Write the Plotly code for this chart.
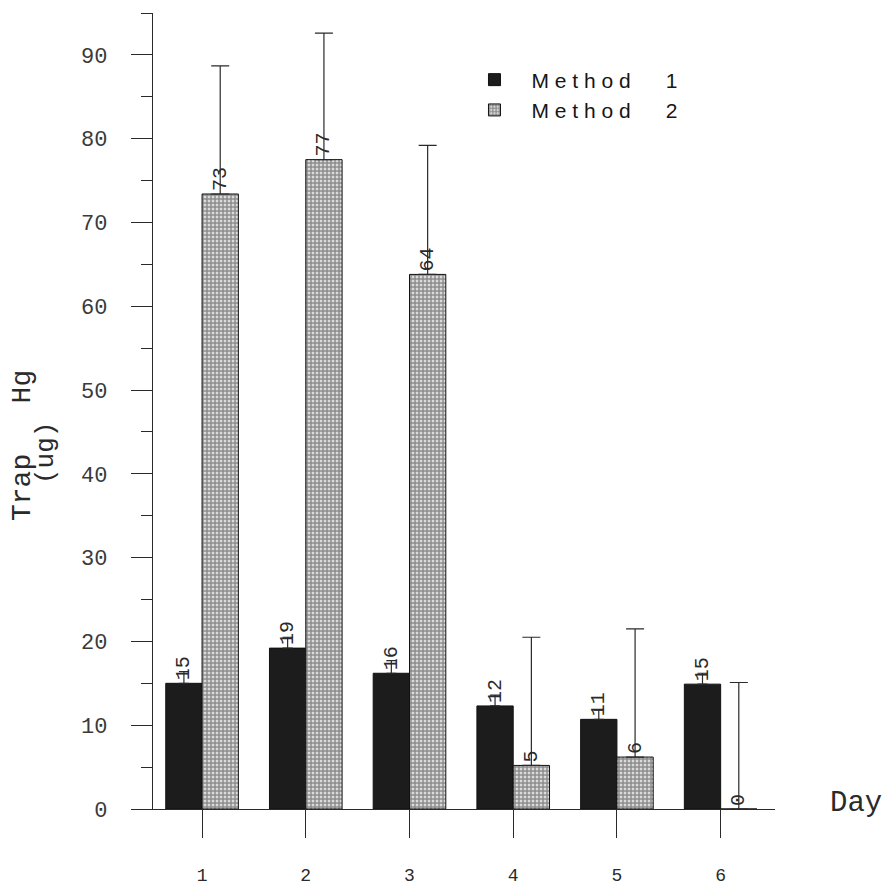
import plotly.graph_objects as go

days = [1, 2, 3, 4, 5, 6]
day_ticktext = ["1", "2", "3", "4", "5", "6"]

method1 = [15.0, 19.2, 16.2, 12.3, 10.7, 14.9]
method1_err = [1.4, 1.3, 1.5, 1.3, 1.1, 1.3]
method1_labels = ["15", "19", "16", "12", "11", "15"]

method2 = [73.4, 77.5, 63.8, 5.2, 6.2, 0.0]
method2_err = [15.3, 15.1, 15.4, 15.3, 15.3, 15.1]
method2_labels = ["73", "77", "64", "5", "6", "0"]

y_tickvals = [0, 10, 20, 30, 40, 50, 60, 70, 80, 90]
y_ticktext = ["0", "10", "20", "30", "40", "50", "60", "70", "80", "90"]

legend_names = ["M\u00a0e\u00a0t\u00a0h\u00a0o\u00a0d\u00a0\u00a0\u00a0\u00a0\u00a0\u00a01",
                "M\u00a0e\u00a0t\u00a0h\u00a0o\u00a0d\u00a0\u00a0\u00a0\u00a0\u00a0\u00a02"]

MONO = "Liberation Mono, Courier New, monospace"
SANS = "Liberation Sans, Arial, sans-serif"
INK = "#2a2a2a"

fig = go.Figure()

fig.add_bar(
    x=days, y=method1, name=legend_names[0],
    text=method1_labels, textposition="outside", textangle=-90,
    constraintext="none", cliponaxis=False,
    textfont=dict(family=MONO, size=20, color=INK),
    marker=dict(color="#1c1c1c", line=dict(color="#111", width=1)),
    error_y=dict(type="data", symmetric=False, array=method1_err,
                 arrayminus=[0] * 6, width=5, thickness=1.2, color=INK),
)
fig.add_bar(
    x=days, y=method2, name=legend_names[1],
    text=method2_labels, textposition="outside", textangle=-90,
    constraintext="none", cliponaxis=False,
    textfont=dict(family=MONO, size=20, color=INK),
    marker=dict(color="white", line=dict(color="#111", width=1),
                pattern=dict(shape=".", fgcolor="#222", bgcolor="white",
                             size=4, solidity=0.78)),
    error_y=dict(type="data", symmetric=False, array=method2_err,
                 arrayminus=[0] * 6, width=9, thickness=1.2, color=INK),
)

fig.update_layout(
    width=889, height=889,
    margin=dict(l=153, r=114, t=13, b=80),
    paper_bgcolor="white", plot_bgcolor="white",
    barmode="group", bargap=0.3, bargroupgap=0,
    showlegend=True,
    legend=dict(x=0.4895, y=0.9416, xanchor="left", yanchor="top",
                bgcolor="rgba(0,0,0,0)", itemwidth=64,
                font=dict(family=SANS, size=21, color="#161616"),
                tracegroupgap=0),
    xaxis=dict(range=[0.527, 6.524], tickvals=days, ticktext=day_ticktext,
               automargin=False,
               showline=True, linecolor=INK, linewidth=1.2,
               ticks="outside", ticklen=28, tickwidth=1.2, tickcolor=INK,
               ticklabelstandoff=21,
               showgrid=False, zeroline=False,
               tickfont=dict(family=MONO, size=18, color=INK)),
    yaxis=dict(range=[0, 95], tickvals=y_tickvals, ticktext=y_ticktext,
               automargin=False,
               showline=True, linecolor=INK, linewidth=1.2,
               ticks="outside", ticklen=21, tickwidth=1.2, tickcolor=INK,
               minor=dict(dtick=5, ticks="outside", ticklen=11,
                          tickwidth=1.2, tickcolor=INK, showgrid=False),
               ticklabelstandoff=19,
               showgrid=False, zeroline=False,
               tickfont=dict(family=MONO, size=22, color="#3a3a3a")),
    annotations=[
        dict(text="Trap\u00a0\u00a0\u00a0Hg", xref="paper", yref="paper",
             x=(22 - 153) / 622, y=(809 - 446) / 796, xanchor="center",
             yanchor="middle", textangle=-90, showarrow=False,
             font=dict(family=MONO, size=28, color=INK)),
        dict(text="(ug)", xref="paper", yref="paper",
             x=(46 - 153) / 622, y=(809 - 453) / 796, xanchor="center",
             yanchor="middle", textangle=-90, showarrow=False,
             font=dict(family=MONO, size=26, color=INK)),
        dict(text="Day", xref="paper", yref="paper",
             x=(828 - 153) / 622, y=(809 - 803) / 796, xanchor="left",
             yanchor="middle", showarrow=False,
             font=dict(family=MONO, size=29, color=INK)),
    ],
)

fig.write_html("out.html")
